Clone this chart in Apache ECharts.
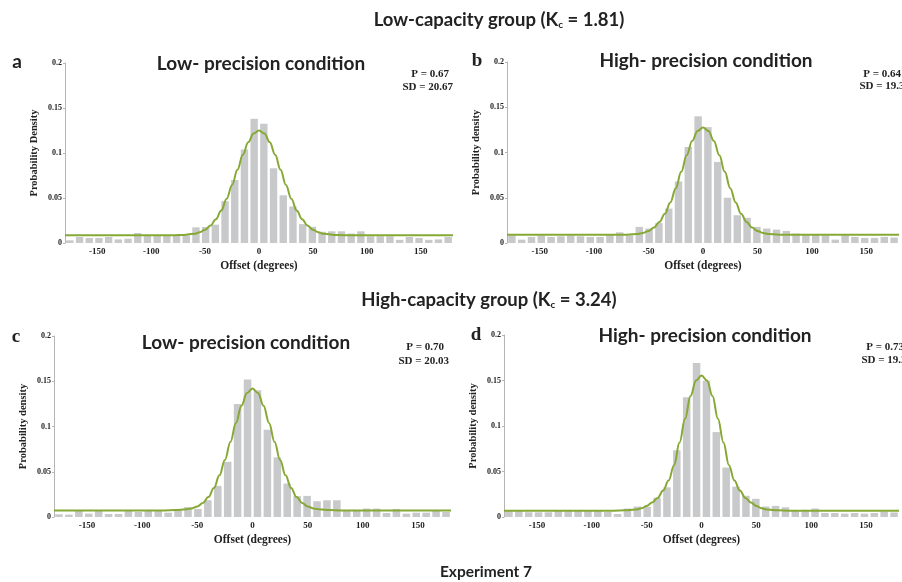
<!DOCTYPE html>
<html>
<head>
<meta charset="utf-8">
<style>
  html, body { margin: 0; padding: 0; background: #fff; }
  #chart { width: 902px; height: 582px; }
</style>
<script src="https://cdn.jsdelivr.net/npm/echarts@6/dist/echarts.min.js"></script>
</head>
<body>
<div id="chart"></div>
<script>
// 9-degree bins, -180..180
const binCenters = [-175.5, -166.5, -157.5, -148.5, -139.5, -130.5, -121.5, -112.5, -103.5, -94.5,
  -85.5, -76.5, -67.5, -58.5, -49.5, -40.5, -31.5, -22.5, -13.5, -4.5,
  4.5, 13.5, 22.5, 31.5, 40.5, 49.5, 58.5, 67.5, 76.5, 85.5,
  94.5, 103.5, 112.5, 121.5, 130.5, 139.5, 148.5, 157.5, 166.5, 175.5];

const barsA = [0.003, 0.0067, 0.0056, 0.0056, 0.0067, 0.004, 0.0048, 0.011, 0.0078, 0.0078,
  0.0085, 0.0085, 0.0085, 0.0174, 0.0178, 0.0204, 0.0465, 0.070, 0.104, 0.138,
  0.1325, 0.083, 0.053, 0.0406, 0.021, 0.018, 0.0125, 0.013, 0.013, 0.0105,
  0.013, 0.0075, 0.0075, 0.0075, 0.0035, 0.0067, 0.0056, 0.0035, 0.004, 0.0067];
const barsB = [0.0085, 0.0037, 0.0067, 0.0085, 0.0067, 0.0074, 0.0085, 0.0074, 0.0067, 0.0067,
  0.0096, 0.0118, 0.0085, 0.0178, 0.016, 0.022, 0.038, 0.068, 0.106, 0.140,
  0.128, 0.0896, 0.050, 0.0307, 0.0278, 0.0178, 0.016, 0.0148, 0.0133, 0.0104,
  0.0096, 0.0096, 0.0085, 0.0037, 0.0085, 0.0067, 0.0056, 0.0056, 0.0067, 0.006];
const barsC = [0.003, 0.0026, 0.0067, 0.0037, 0.0067, 0.0033, 0.0033, 0.0067, 0.0056, 0.0067,
  0.0067, 0.0048, 0.0074, 0.011, 0.0089, 0.0185, 0.0344, 0.061, 0.1248, 0.152,
  0.140, 0.0963, 0.0659, 0.037, 0.023, 0.0233, 0.0174, 0.0185, 0.0185, 0.0074,
  0.0067, 0.0093, 0.0093, 0.0044, 0.0089, 0.0037, 0.0048, 0.0048, 0.0067, 0.0056];
const barsD = [0.0067, 0.0067, 0.0052, 0.0052, 0.0052, 0.0067, 0.0067, 0.0067, 0.0067, 0.0067,
  0.0056, 0.0033, 0.0093, 0.0115, 0.011, 0.0211, 0.0326, 0.0733, 0.1315, 0.1693,
  0.1496, 0.0933, 0.0544, 0.0333, 0.0233, 0.020, 0.0115, 0.0122, 0.0107, 0.007,
  0.0078, 0.0093, 0.0044, 0.0044, 0.0037, 0.0044, 0.0037, 0.0044, 0.0059, 0.005];

// fitted curves
const curveX = [-180, -100, -80, -70, -60, -55, -50, -45, -40, -35, -30, -25, -20, -15, -10, -5, 0,
  5, 10, 15, 20, 25, 30, 35, 40, 45, 50, 55, 60, 70, 80, 100, 180];
const curveA = [.0085, .0085, .0086, .009, .0102, .0119, .0147, .0194, .0264, .0362, .0491, .0645, .0814, .098, .112, .1216, .1249,
  .1216, .112, .098, .0814, .0645, .0491, .0362, .0264, .0194, .0147, .0119, .0102, .009, .0086, .0085, .0085];
const curveB = [.009, .009, .0091, .0092, .0100, .0111, .0133, .017, .0231, .0322, .0448, .0606, .0786, .0969, .1128, .1237, .1276,
  .1237, .1128, .0969, .0786, .0606, .0448, .0322, .0231, .017, .0133, .0111, .0100, .0092, .0091, .009, .009];
const curveC = [.0073, .0073, .0073, .0076, .0085, .0095, .0115, .0155, .022, .032, .046, .063, .083, .104, .123, .137, .142,
  .137, .123, .104, .083, .063, .046, .032, .022, .0155, .0115, .0095, .0085, .0076, .0073, .0073, .0073];
const curveD = [.007, .007, .007, .0073, .0082, .0095, .012, .016, .021, .029, .040, .057, .082, .108, .133, .150, .1556,
  .150, .133, .108, .082, .057, .040, .029, .021, .016, .012, .0095, .0082, .0073, .007, .007, .007];

const yTicks = [0, 0.05, 0.1, 0.15, 0.2];
const xTickLabels = [-150, -100, -50, 0, 50, 100, 150];

const panels = [
  { bars: barsA, curve: curveA, yName: 'Probability Density', grid: { left: 65, right: 449, top: 63, bottom: 339 } },
  { bars: barsB, curve: curveB, yName: 'Probability density', grid: { left: 507, right: -7, top: 62, bottom: 339 } },
  { bars: barsC, curve: curveC, yName: 'Probability density', grid: { left: 54, right: 451, top: 336, bottom: 65 } },
  { bars: barsD, curve: curveD, yName: 'Probability density', grid: { left: 504, right: -6, top: 335, bottom: 65 } }
];

const serif = '"Liberation Serif", "DejaVu Serif", serif';
const sans = 'Lato, "Open Sans", sans-serif';
const ink = '#222';

const chart = echarts.init(document.getElementById('chart'), null, { renderer: 'canvas' });

const grids = [];
const xAxes = [];
const yAxes = [];
const series = [];

panels.forEach(function (p, i) {
  grids.push(p.grid);
  // visible value axis for labels and the curve
  xAxes.push({
    type: 'value', gridIndex: i, min: -180, max: 180, interval: 10,
    name: 'Offset (degrees)', nameLocation: 'middle', nameGap: 17,
    nameTextStyle: { fontFamily: serif, fontWeight: 'bold', fontSize: 11.5, color: ink },
    axisLine: { show: false, onZero: false }, axisTick: { show: false }, splitLine: { show: false },
    axisLabel: {
      fontFamily: serif, fontWeight: 'bold', fontSize: 9, color: ink, margin: 4,
      formatter: function (v) { return xTickLabels.indexOf(v) >= 0 ? String(v) : ''; }
    }
  });
  yAxes.push({
    type: 'value', gridIndex: i, min: yTicks[0], max: yTicks[yTicks.length - 1], interval: 0.05,
    name: p.yName, nameLocation: 'middle', nameGap: 25,
    nameTextStyle: { fontFamily: serif, fontWeight: 'bold', fontSize: 10.5, color: ink },
    axisLine: { show: true, onZero: false, lineStyle: { color: '#b5b5b5', width: 1 } },
    axisTick: { show: true, length: 2, lineStyle: { color: '#b5b5b5' } },
    splitLine: { show: false },
    axisLabel: { fontFamily: serif, fontWeight: 'bold', fontSize: 8, color: ink, margin: 3 }
  });
});

// hidden category axes carrying the histogram bins
panels.forEach(function (p, i) {
  xAxes.push({ type: 'category', gridIndex: i, data: binCenters, show: false, boundaryGap: true });
});

panels.forEach(function (p, i) {
  series.push({
    type: 'bar', xAxisIndex: 4 + i, yAxisIndex: i, data: p.bars,
    barCategoryGap: '24%', itemStyle: { color: '#c8c9cb' }, silent: true, animation: false
  });
  series.push({
    type: 'line', xAxisIndex: i, yAxisIndex: i,
    data: curveX.map(function (x, k) { return [x, p.curve[k]]; }),
    smooth: 0.4, smoothMonotone: 'x', showSymbol: false, clip: true,
    lineStyle: { color: '#86a834', width: 2 }, z: 3, animation: false
  });
});

function label(x, y, text, size, family, align, extra) {
  return Object.assign({
    type: 'text', x: x, y: y, z: 10,
    style: {
      text: text, fontSize: size, fontFamily: family, fontWeight: 'bold', fill: ink,
      align: align || 'center', verticalAlign: 'middle'
    }
  }, extra || {});
}

function groupTitle(x, y, pre, post) {
  return {
    type: 'text', x: x, y: y, z: 10,
    style: {
      text: pre + '{s|c}' + post,
      fontSize: 18.5, fontFamily: sans, fontWeight: 'bold', fill: ink,
      align: 'center', verticalAlign: 'middle',
      rich: { s: { fontSize: 10, fontFamily: sans, fontWeight: 'bold', fill: ink, verticalAlign: 'bottom' } }
    }
  };
}

const graphics = [
  groupTitle(499, 20, 'Low-capacity group (K', ' = 1.81)'),
  groupTitle(489, 300, 'High-capacity group (K', ' = 3.24)'),
  label(486, 572, 'Experiment 7', 15.5, sans),

  label(261, 64, 'Low- precision condition', 19, sans),
  label(706, 61, 'High- precision condition', 19, sans),
  label(246, 343, 'Low- precision condition', 19, sans),
  label(705, 336, 'High- precision condition', 19, sans),

  label(17, 62, 'a', 19, sans),
  label(477, 61, 'b', 19, serif),
  label(16, 337, 'c', 19, serif),
  label(476, 335, 'd', 19, serif),

  label(449, 74, 'P = 0.67', 11, serif, 'right'),
  label(453, 87, 'SD = 20.67', 11, serif, 'right'),
  label(901, 74, 'P = 0.64', 11, serif, 'right'),
  label(910, 86, 'SD = 19.38', 11, serif, 'right'),
  label(444, 347, 'P = 0.70', 11, serif, 'right'),
  label(449, 361, 'SD = 20.03', 11, serif, 'right'),
  label(904, 347, 'P = 0.73', 11, serif, 'right'),
  label(912, 360, 'SD = 19.25', 11, serif, 'right')
];

chart.setOption({
  backgroundColor: '#ffffff',
  animation: false,
  grid: grids,
  xAxis: xAxes,
  yAxis: yAxes,
  series: series,
  graphic: graphics
});
</script>
</body>
</html>
